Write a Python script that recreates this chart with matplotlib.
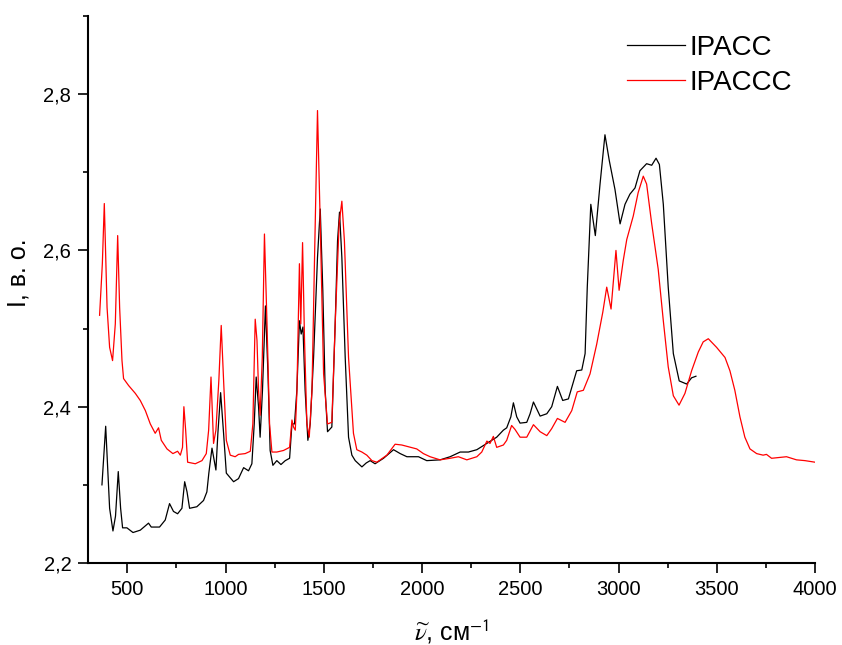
import matplotlib
matplotlib.use("Agg")
import matplotlib.pyplot as plt
from matplotlib.ticker import MultipleLocator, FuncFormatter

plt.rcParams['font.family'] = ['Liberation Sans', 'DejaVu Sans']
plt.rcParams['mathtext.fontset'] = 'stix'

# IPACC (black)
wn_ipacc = [371, 390, 410, 427, 440, 454, 466, 476, 498, 529, 566, 608, 622, 664, 693, 715, 735, 756,
            778, 792, 804, 817, 854, 888, 905, 915, 931, 951, 961, 975, 990, 1004, 1041, 1066, 1092,
            1117, 1134, 1146, 1156, 1168, 1176, 1188, 1203, 1216, 1227, 1241, 1261, 1282, 1304, 1326,
            1338, 1351, 1363, 1376, 1385, 1394, 1405, 1419, 1431, 1448, 1468, 1482, 1495, 1507, 1519,
            1541, 1558, 1570, 1580, 1592, 1609, 1626, 1643, 1660, 1677, 1694, 1716, 1736, 1761, 1804,
            1855, 1889, 1923, 1982, 2024, 2092, 2143, 2194, 2236, 2279, 2330, 2380, 2414, 2431, 2452,
            2465, 2482, 2499, 2533, 2550, 2567, 2601, 2635, 2660, 2689, 2716, 2745, 2787, 2813, 2830,
            2841, 2859, 2882, 2906, 2931, 2953, 2982, 3008, 3033, 3058, 3084, 3109, 3143, 3169, 3191,
            3208, 3228, 3253, 3279, 3309, 3347, 3372, 3394]
i_ipacc = [2.300, 2.375, 2.270, 2.241, 2.260, 2.317, 2.270, 2.245, 2.245, 2.239, 2.242, 2.251, 2.246,
           2.246, 2.255, 2.276, 2.266, 2.263, 2.270, 2.304, 2.291, 2.270, 2.272, 2.280, 2.291, 2.315,
           2.347, 2.319, 2.366, 2.418, 2.366, 2.315, 2.304, 2.308, 2.322, 2.318, 2.327, 2.378, 2.438,
           2.400, 2.361, 2.421, 2.529, 2.442, 2.344, 2.325, 2.331, 2.326, 2.331, 2.334, 2.378, 2.378,
           2.421, 2.510, 2.493, 2.502, 2.421, 2.357, 2.378, 2.463, 2.591, 2.653, 2.549, 2.421, 2.368,
           2.374, 2.506, 2.612, 2.649, 2.591, 2.463, 2.361, 2.338, 2.331, 2.327, 2.323, 2.328, 2.331,
           2.327, 2.334, 2.345, 2.340, 2.336, 2.336, 2.331, 2.332, 2.336, 2.342, 2.342, 2.345, 2.353,
           2.361, 2.370, 2.373, 2.387, 2.405, 2.387, 2.379, 2.380, 2.391, 2.406, 2.388, 2.391, 2.400,
           2.426, 2.408, 2.410, 2.446, 2.447, 2.468, 2.553, 2.659, 2.619, 2.685, 2.748, 2.715, 2.678,
           2.634, 2.659, 2.672, 2.680, 2.702, 2.711, 2.709, 2.718, 2.710, 2.659, 2.553, 2.468, 2.433,
           2.429, 2.437, 2.439]

# IPACCC (red)
wn_ipaccc = [359, 373, 383, 397, 410, 425, 439, 451, 461, 473, 481, 507, 541, 566, 592, 617, 642, 659,
             673, 702, 732, 756, 770, 781, 788, 797, 807, 846, 880, 902, 914, 926, 939, 951, 966, 978,
             990, 1004, 1024, 1049, 1066, 1100, 1126, 1139, 1151, 1160, 1168, 1176, 1187, 1198, 1211,
             1224, 1236, 1261, 1295, 1326, 1338, 1346, 1355, 1363, 1376, 1383, 1392, 1402, 1414, 1426,
             1440, 1453, 1468, 1482, 1499, 1519, 1541, 1558, 1578, 1592, 1605, 1626, 1651, 1668, 1694,
             1719, 1745, 1770, 1821, 1863, 1897, 1973, 2007, 2041, 2092, 2143, 2185, 2228, 2279, 2304,
             2330, 2346, 2363, 2380, 2414, 2431, 2456, 2473, 2499, 2533, 2567, 2601, 2635, 2660, 2689,
             2728, 2762, 2790, 2821, 2855, 2889, 2920, 2940, 2962, 2987, 3003, 3024, 3042, 3075, 3100,
             3126, 3143, 3169, 3202, 3228, 3253, 3279, 3308, 3338, 3372, 3406, 3431, 3457, 3499, 3542,
             3567, 3592, 3618, 3643, 3669, 3703, 3736, 3753, 3779, 3855, 3906, 3949, 4000]
i_ipaccc = [2.517, 2.583, 2.660, 2.527, 2.476, 2.459, 2.506, 2.619, 2.527, 2.459, 2.436, 2.427, 2.417,
            2.408, 2.395, 2.378, 2.366, 2.373, 2.357, 2.346, 2.340, 2.343, 2.338, 2.348, 2.400, 2.370,
            2.329, 2.327, 2.331, 2.340, 2.370, 2.438, 2.353, 2.370, 2.434, 2.504, 2.434, 2.357, 2.338,
            2.336, 2.339, 2.340, 2.343, 2.378, 2.512, 2.485, 2.421, 2.389, 2.463, 2.621, 2.506, 2.378,
            2.342, 2.342, 2.344, 2.348, 2.383, 2.374, 2.370, 2.417, 2.583, 2.506, 2.610, 2.485, 2.378,
            2.361, 2.421, 2.591, 2.779, 2.634, 2.442, 2.378, 2.380, 2.506, 2.634, 2.663, 2.612, 2.463,
            2.366, 2.345, 2.342, 2.338, 2.331, 2.329, 2.338, 2.352, 2.351, 2.346, 2.340, 2.336, 2.332,
            2.334, 2.336, 2.332, 2.336, 2.342, 2.356, 2.353, 2.362, 2.348, 2.351, 2.357, 2.376, 2.371,
            2.361, 2.361, 2.377, 2.368, 2.363, 2.372, 2.385, 2.380, 2.395, 2.419, 2.421, 2.442, 2.480,
            2.521, 2.553, 2.525, 2.600, 2.549, 2.587, 2.614, 2.644, 2.674, 2.695, 2.685, 2.634, 2.576,
            2.510, 2.451, 2.414, 2.402, 2.417, 2.446, 2.470, 2.483, 2.487, 2.476, 2.463, 2.446, 2.421,
            2.387, 2.361, 2.346, 2.340, 2.338, 2.339, 2.334, 2.336, 2.332, 2.331, 2.329]

series_labels = ['IPACC', 'IPACCC']

fig = plt.figure(figsize=(8.42, 6.45), dpi=100)
ax = fig.add_axes([88/842, 1 - 563/645, (815-88)/842, (563-16)/645])

ax.plot(wn_ipacc, i_ipacc, color='black', lw=0.9, label=series_labels[0])
ax.plot(wn_ipaccc, i_ipaccc, color='#ff0000', lw=0.9, label=series_labels[1])

ax.set_xlim(300, 4000)
ax.set_ylim(2.2, 2.9)
ax.xaxis.set_major_locator(MultipleLocator(500))
ax.xaxis.set_minor_locator(MultipleLocator(250))
ax.yaxis.set_major_locator(MultipleLocator(0.2))
ax.yaxis.set_minor_locator(MultipleLocator(0.1))
ax.yaxis.set_major_formatter(FuncFormatter(lambda v, p: f"{v:.1f}".replace('.', ',')))

for s in ['top', 'right']:
    ax.spines[s].set_visible(False)
for s in ['left', 'bottom']:
    ax.spines[s].set_linewidth(1.5)
ax.tick_params(which='major', direction='out', length=7, width=1.2, labelsize=14.5, pad=5)
ax.tick_params(which='minor', direction='out', length=3.8, width=1.2)

ax.set_ylabel('I, в. о.', fontsize=18)
ax.yaxis.set_label_coords(-0.079, 0.53)
ax.set_xlabel(r'$\widetilde{\nu}$, см$^{\mathsf{-1}}$', fontsize=18)
ax.xaxis.set_label_coords(0.5, -0.10)

leg = ax.legend(loc='upper left', bbox_to_anchor=(627/842, 1 - 35/645), bbox_transform=fig.transFigure,
                frameon=False, fontsize=20, borderpad=0, borderaxespad=0, handlelength=2.1,
                handletextpad=0.15, labelspacing=0.33)

fig.savefig('out.png', dpi=100)
